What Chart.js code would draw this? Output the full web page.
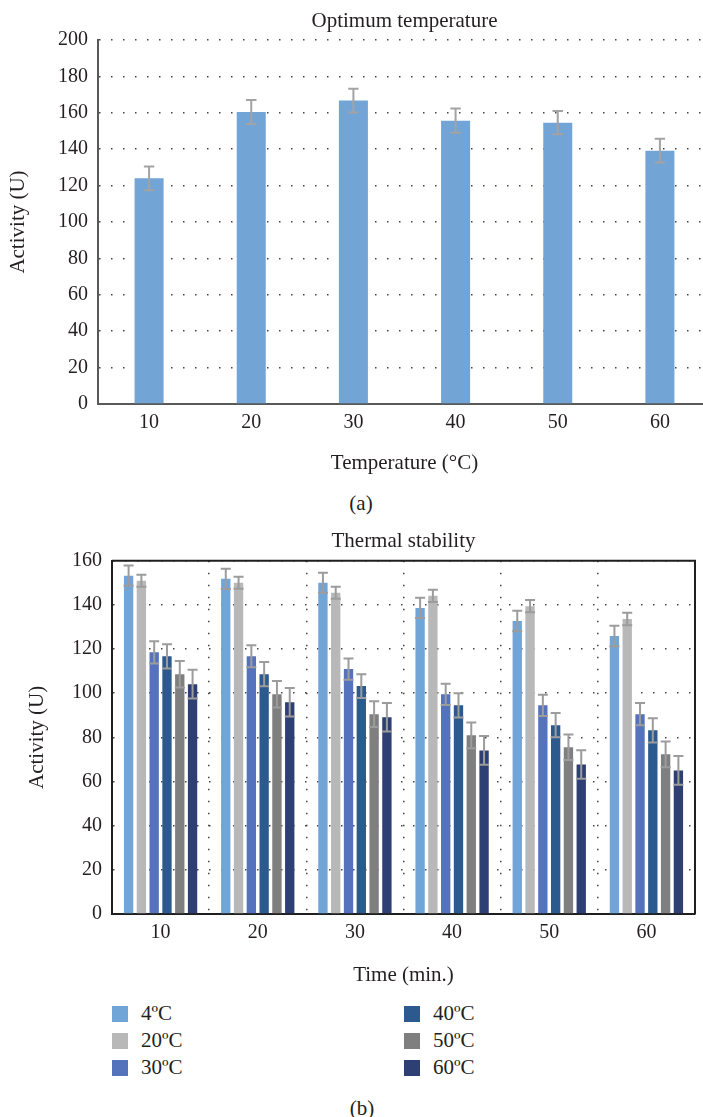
<!DOCTYPE html>
<html>
<head>
<meta charset="utf-8">
<script src="https://cdn.jsdelivr.net/npm/chart.js@4.4.0/dist/chart.umd.min.js"></script>
<style>
  body {
    margin: 0;
    width: 703px;
    height: 1117px;
    overflow: hidden;
    background: #fff;
    position: relative;
    font-family: "Liberation Serif", serif;
    color: #231f20;
  }
  canvas { position: absolute; left: 0; }
  .caption {
    position: absolute;
    font-size: 21px;
    line-height: 1;
    transform: translate(-50%, -50%);
    white-space: nowrap;
  }
  .legend-item {
    position: absolute;
    font-size: 21px;
    line-height: 1;
    white-space: nowrap;
  }
  .legend-item span.sq {
    position: absolute;
    left: 0;
    top: -8px;
    width: 16px;
    height: 16px;
  }
  .legend-item span.txt {
    position: absolute;
    left: 29px;
    top: -11px;
  }
</style>
</head>
<body>
<canvas id="optChart" width="715" height="485" style="top:0"></canvas>
<div class="caption" style="left:361px; top:503px">(a)</div>
<canvas id="stabChart" width="703" height="475" style="top:520px"></canvas>
<div id="stabLegend"></div>
<div class="caption" style="left:362px; top:1108px">(b)</div>

<script>
// Optimum temperature (a)
const tempLabels = ['10', '20', '30', '40', '50', '60'];
const optActivity = [124, 160.5, 166.7, 155.7, 154.6, 139.2];
const optError = [6.5, 6.6, 6.5, 6.6, 6.4, 6.5];

// Thermal stability (b)
const timeLabels = ['10', '20', '30', '40', '50', '60'];
const seriesNames = ['4ºC', '20ºC', '30ºC', '40ºC', '50ºC', '60ºC'];
const stab4 = [153.2, 151.8, 150, 138.6, 132.7, 125.9];
const stab20 = [150.9, 150, 145.5, 144.1, 139.4, 133.6];
const stab30 = [118.5, 116.7, 110.9, 99.5, 94.5, 90.5];
const stab40 = [116.7, 108.6, 103.2, 94.5, 85.5, 83.2];
const stab50 = [108.6, 99.5, 90.5, 80.9, 75.5, 72.3];
const stab60 = [104.1, 95.9, 89.1, 74.1, 67.7, 65];
const err4 = [4.6, 4.6, 4.5, 4.6, 4.6, 4.6];
const err20 = [2.7, 2.7, 2.7, 2.8, 2.8, 2.8];
const err30 = [5, 5, 4.8, 4.8, 4.8, 5];
const err40 = [5.5, 5.5, 5.4, 5.5, 5.5, 5.5];
const err50 = [6, 6, 5.8, 5.8, 5.8, 5.8];
const err60 = [6.5, 6.5, 6.5, 6.5, 6.5, 6.5];

const textColor = '#231f20';
const serif = 'Liberation Serif';

// Error bars drawn from each dataset's "errors" array
const errorBars = {
  id: 'errorBars',
  afterDatasetsDraw(chart, args, opts) {
    const ctx = chart.ctx;
    const yScale = chart.scales.y;
    ctx.save();
    ctx.strokeStyle = opts.color || '#a0a0a0';
    ctx.lineWidth = opts.width || 2;
    const half = opts.cap || 5;
    chart.data.datasets.forEach((ds, i) => {
      const meta = chart.getDatasetMeta(i);
      meta.data.forEach((bar, j) => {
        const v = ds.data[j];
        const e = ds.errors[j];
        const yTop = yScale.getPixelForValue(v + e);
        const yBot = yScale.getPixelForValue(v - e);
        ctx.beginPath();
        ctx.moveTo(bar.x, yTop);
        ctx.lineTo(bar.x, yBot);
        ctx.moveTo(bar.x - half, yTop);
        ctx.lineTo(bar.x + half, yTop);
        ctx.moveTo(bar.x - half, yBot);
        ctx.lineTo(bar.x + half, yBot);
        ctx.stroke();
      });
    });
    ctx.restore();
  }
};

// Top and right frame lines around the plot area
const plotFrame = {
  id: 'plotFrame',
  afterDraw(chart, args, opts) {
    if (!opts.display) return;
    const {ctx, chartArea: a} = chart;
    ctx.save();
    ctx.strokeStyle = opts.color;
    ctx.lineWidth = opts.width;
    ctx.beginPath();
    ctx.moveTo(a.left, a.top);
    ctx.lineTo(a.right, a.top);
    ctx.lineTo(a.right, a.bottom);
    ctx.stroke();
    ctx.restore();
  }
};

Chart.register(errorBars, plotFrame);

new Chart(document.getElementById('optChart'), {
  type: 'bar',
  data: {
    labels: tempLabels,
    datasets: [{
      label: 'Activity',
      data: optActivity,
      errors: optError,
      backgroundColor: '#72a5d6',
      barPercentage: 0.284,
      categoryPercentage: 1
    }]
  },
  options: {
    responsive: false,
    animation: false,
    layout: { padding: { left: 0, right: 4, top: 0, bottom: 0 } },
    plugins: {
      legend: { display: false },
      tooltip: { enabled: false },
      title: {
        display: true,
        text: 'Optimum temperature',
        fullSize: false,
        color: textColor,
        font: { family: serif, size: 21, weight: 'normal' },
        padding: { top: 8.4, bottom: 6.4 }
      },
      errorBars: { color: '#a3a3a3', width: 2, cap: 5.2 },
      plotFrame: { display: false }
    },
    scales: {
      x: {
        grid: { display: false, drawTicks: false },
        border: { display: true, color: '#595959', width: 2 },
        ticks: { color: textColor, font: { family: serif, size: 20 }, padding: 7 },
        title: {
          display: true,
          text: 'Temperature (°C)',
          color: textColor,
          font: { family: serif, size: 21 },
          padding: { top: 0, bottom: 9.4 }
        },
        afterFit(scale) { scale.height = 81; }
      },
      y: {
        min: 0,
        max: 200,
        ticks: { stepSize: 20, color: textColor, font: { family: serif, size: 20 }, padding: 10 },
        grid: { color: '#444', lineWidth: 1.5, drawTicks: false },
        border: { display: true, color: '#595959', width: 2, dash: [1.5, 10.5] },
        title: {
          display: true,
          text: 'Activity (U)',
          color: textColor,
          font: { family: serif, size: 21 },
          padding: { top: 5.4, bottom: 0 }
        },
        afterFit(scale) { scale.width = 98; }
      }
    }
  }
});

const stabColors = ['#72a5d7', '#b8b8b8', '#5573bd', '#2c5a8f', '#7f7f7f', '#2e3f73'];
const stabValues = [stab4, stab20, stab30, stab40, stab50, stab60];
const stabErrors = [err4, err20, err30, err40, err50, err60];

const stabChart = new Chart(document.getElementById('stabChart'), {
  type: 'bar',
  data: {
    labels: timeLabels,
    datasets: seriesNames.map((name, i) => ({
      label: name,
      data: stabValues[i],
      errors: stabErrors[i],
      backgroundColor: stabColors[i],
      barPercentage: 0.73,
      categoryPercentage: 0.79
    }))
  },
  options: {
    responsive: false,
    animation: false,
    layout: { padding: { left: 0, right: 8, top: 0, bottom: 0 } },
    plugins: {
      legend: { display: false },
      tooltip: { enabled: false },
      title: {
        display: true,
        text: 'Thermal stability',
        fullSize: false,
        color: textColor,
        font: { family: serif, size: 21, weight: 'normal' },
        padding: { top: 9.1, bottom: 6.4 }
      },
      errorBars: { color: '#9c9c9c', width: 2, cap: 5 },
      plotFrame: { display: true, color: '#1f1f1f', width: 2 }
    },
    scales: {
      x: {
        grid: { display: true, offset: true, color: '#444', lineWidth: 1.5, drawTicks: false },
        border: { display: true, color: '#1f1f1f', width: 2, dash: [1.5, 10.5] },
        ticks: { color: textColor, font: { family: serif, size: 20 }, padding: 7 },
        title: {
          display: true,
          text: 'Time (min.)',
          color: textColor,
          font: { family: serif, size: 21 },
          padding: { top: 0, bottom: 6.7 }
        },
        afterFit(scale) { scale.height = 81; }
      },
      y: {
        min: 0,
        max: 160,
        ticks: { stepSize: 20, color: textColor, font: { family: serif, size: 20 }, padding: 10 },
        grid: { color: '#444', lineWidth: 1.5, drawTicks: false },
        border: { display: true, color: '#1f1f1f', width: 2, dash: [1.5, 10.5] },
        title: {
          display: true,
          text: 'Activity (U)',
          color: textColor,
          font: { family: serif, size: 21 },
          padding: { top: 24.4, bottom: 0 }
        },
        afterFit(scale) { scale.width = 112; }
      }
    }
  }
});

// Legend in two columns, filled top to bottom
const legendBox = document.getElementById('stabLegend');
stabChart.data.datasets.forEach((ds, i) => {
  const col = Math.floor(i / 3);
  const row = i % 3;
  const item = document.createElement('div');
  item.className = 'legend-item';
  item.style.left = (col === 0 ? 112 : 404) + 'px';
  item.style.top = (1014 + row * 27) + 'px';
  const sq = document.createElement('span');
  sq.className = 'sq';
  sq.style.background = ds.backgroundColor;
  const txt = document.createElement('span');
  txt.className = 'txt';
  txt.textContent = ds.label;
  item.appendChild(sq);
  item.appendChild(txt);
  legendBox.appendChild(item);
});
</script>
</body>
</html>
